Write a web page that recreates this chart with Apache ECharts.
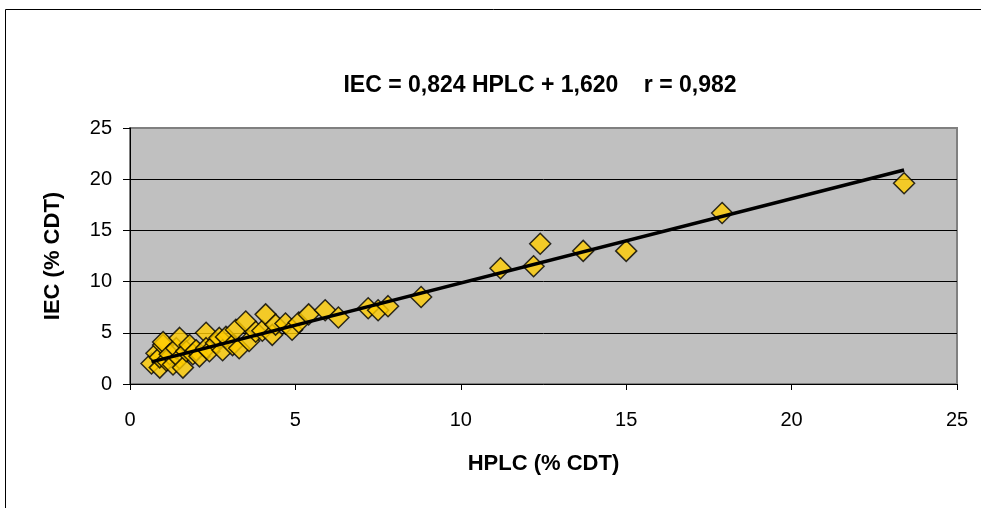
<!DOCTYPE html>
<html>
<head>
<meta charset="utf-8">
<script src="https://cdn.jsdelivr.net/npm/echarts@6/dist/echarts.min.js"></script>
<style>
html,body{margin:0;padding:0;background:#fff;}
#c{width:981px;height:508px;}
</style>
</head>
<body>
<div id="c"></div>
<script>
const titleText = 'IEC = 0,824 HPLC + 1,620    r = 0,982';
const xName = 'HPLC (% CDT)';
const yName = 'IEC (% CDT)';
const slope = 0.824;
const intercept = 1.620;
const hplc = [0.65,0.8,0.9,0.9,1.0,1.0,1.1,1.2,1.3,1.4,1.5,1.5,1.6,1.7,1.8,1.9,2.0,2.1,2.3,2.3,2.4,2.6,2.7,2.8,2.9,3.1,3.2,3.3,3.5,3.6,3.8,4.0,4.1,4.3,4.4,4.7,4.9,5.1,5.4,5.9,6.3,7.2,7.5,7.8,8.8,11.2,12.2,12.4,13.7,15.0,17.9,23.4];
const iec  = [2.0,3.0,1.6,2.6,3.8,4.1,2.3,2.9,1.9,3.5,4.5,2.5,1.6,3.2,3.8,2.9,3.3,2.7,5.0,3.5,3.2,4.0,4.5,3.3,4.6,3.8,5.3,3.5,6.1,4.2,5.1,5.2,6.8,4.8,5.8,5.9,5.3,6.0,6.8,7.2,6.5,7.4,7.2,7.6,8.5,11.3,11.5,13.7,13.0,13.0,16.7,19.6];
const xTicks = [0,5,10,15,20,25];
const yTicks = [0,5,10,15,20,25];

const points = hplc.map((x,i)=>[x,iec[i]]);
const xmin = Math.min(...hplc), xmax = Math.max(...hplc);
const trend = [[xmin, slope*xmin+intercept],[xmax, slope*xmax+intercept]];

const FONT = '"Liberation Sans", Arial, sans-serif';
const chart = echarts.init(document.getElementById('c'), null, {renderer:'canvas'});
chart.setOption({
  animation:false,
  backgroundColor:'#fff',
  graphic:[{type:'rect', shape:{x:5.5,y:9.5,width:1100,height:700}, style:{fill:'none',stroke:'#000',lineWidth:1}, z:0}],
  title:{text:titleText, left:535, textAlign:'center', top:69,
    textStyle:{fontFamily:FONT,fontWeight:'bold',fontSize:23,color:'#000'}},
  grid:{left:130,right:24,top:128,bottom:124,show:true,backgroundColor:'#C0C0C0',borderColor:'#808080',borderWidth:2},
  xAxis:{type:'value',min:xTicks[0],max:xTicks[xTicks.length-1],interval:5,
    name:xName,nameLocation:'middle',nameGap:69,
    nameTextStyle:{fontFamily:FONT,fontWeight:'bold',fontSize:22,color:'#000'},
    axisLine:{lineStyle:{color:'#000',width:1}},
    axisTick:{show:true,length:6,lineStyle:{color:'#000'}},
    axisLabel:{fontFamily:FONT,fontSize:20,color:'#000',margin:26},
    splitLine:{show:false}},
  yAxis:{type:'value',min:yTicks[0],max:yTicks[yTicks.length-1],interval:5,
    name:yName,nameLocation:'middle',nameGap:66,nameRotate:90,
    nameTextStyle:{fontFamily:FONT,fontWeight:'bold',fontSize:22,color:'#000'},
    axisLine:{show:true,lineStyle:{color:'#000',width:1}},
    axisTick:{show:true,length:7,lineStyle:{color:'#000'}},
    axisLabel:{fontFamily:FONT,fontSize:20,color:'#000',margin:18},
    splitLine:{show:true,showMinLine:false,showMaxLine:false,lineStyle:{color:'#000',width:1}}},
  series:[
    {type:'scatter',data:points,symbol:'diamond',symbolSize:21,
      itemStyle:{color:'#FFCC00',borderColor:'#000',borderWidth:1.5},z:3},
    {type:'line',data:trend,symbol:'none',lineStyle:{color:'#000',width:3.5},z:4}
  ]
});
</script>
</body>
</html>
